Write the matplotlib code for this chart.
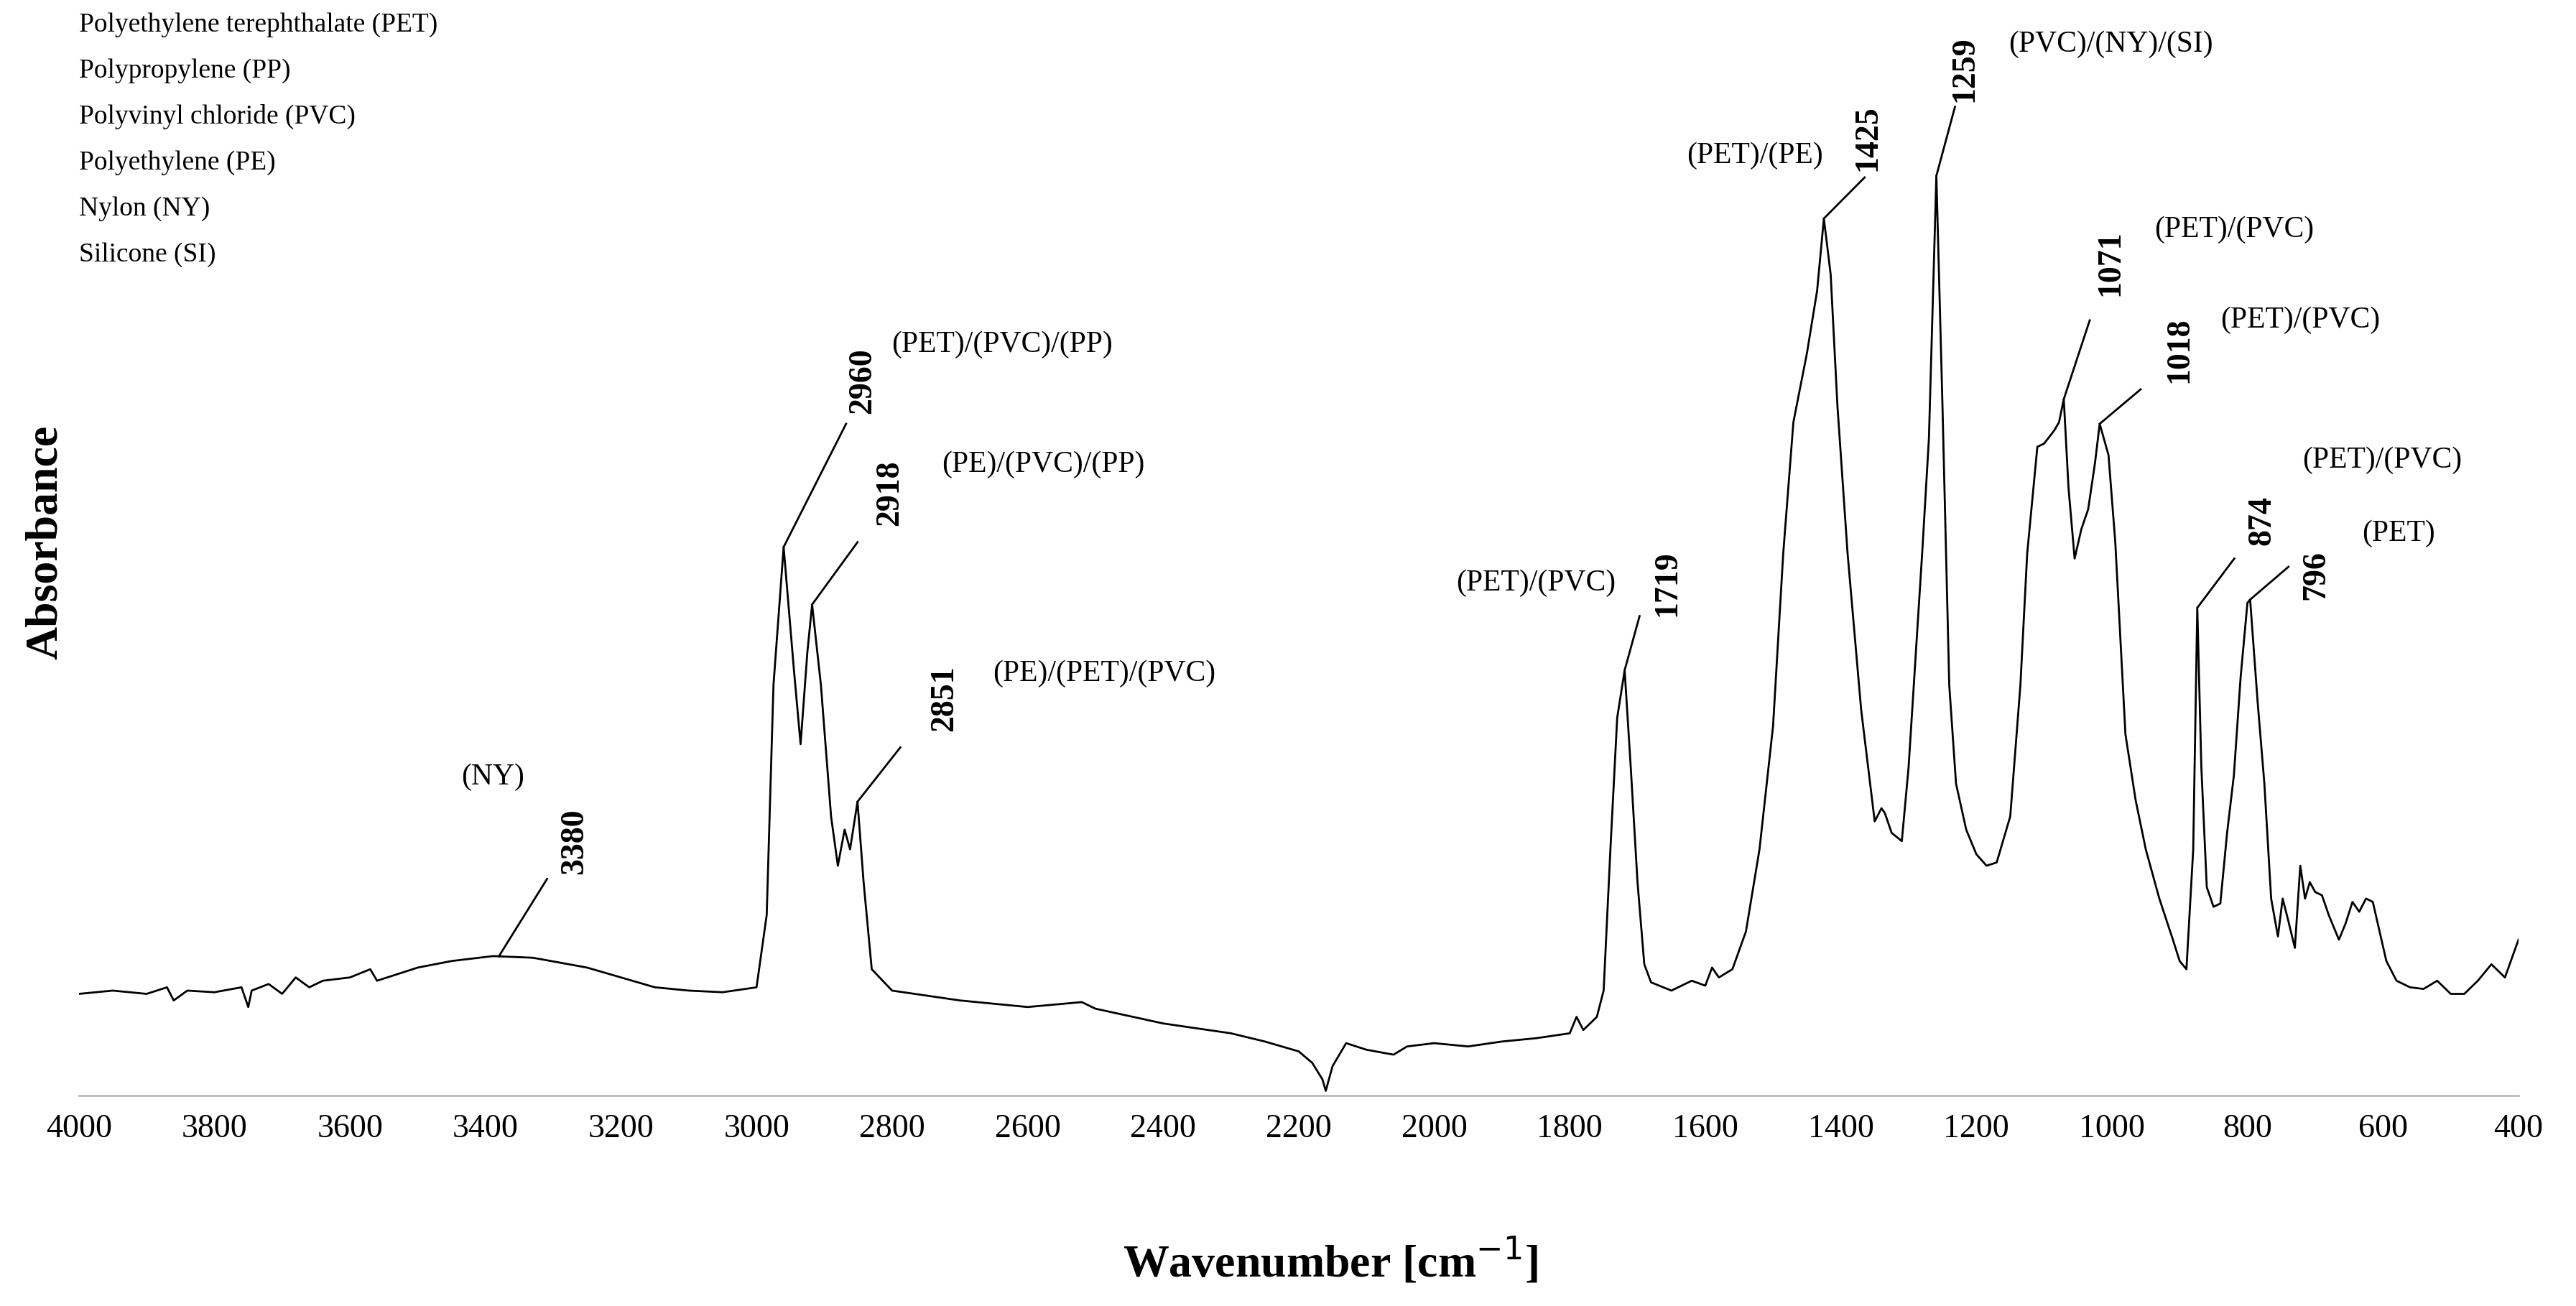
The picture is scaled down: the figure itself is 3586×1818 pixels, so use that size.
import matplotlib
matplotlib.use("Agg")
import matplotlib.pyplot as plt

# spectrum: (wavenumber [cm-1], absorbance arb.)
spectrum = [
    (4000, 62), (3950, 64), (3900, 62), (3870, 66), (3860, 58), (3840, 64), (3800, 63),
    (3760, 66), (3750, 54), (3745, 64), (3720, 68), (3700, 62), (3680, 72), (3660, 66),
    (3640, 70), (3600, 72), (3570, 77), (3560, 70), (3500, 78), (3450, 82), (3389, 85),
    (3330, 84), (3250, 78), (3200, 72), (3150, 66), (3100, 64), (3050, 63), (3000, 66),
    (2985, 110), (2975, 250), (2960, 334), (2945, 260), (2935, 214), (2925, 270), (2918, 299),
    (2905, 250), (2890, 170), (2880, 140), (2870, 162), (2862, 150), (2851, 179), (2842, 130),
    (2830, 77), (2800, 64), (2700, 58), (2600, 54), (2520, 57), (2500, 53), (2400, 44),
    (2300, 38), (2250, 33), (2200, 27), (2180, 20), (2165, 10), (2160, 3), (2150, 18),
    (2130, 32), (2100, 28), (2060, 25), (2040, 30), (2000, 32), (1950, 30), (1900, 33),
    (1850, 35), (1800, 38), (1790, 48), (1780, 40), (1760, 48), (1750, 64), (1740, 150),
    (1730, 230), (1719, 259), (1710, 200), (1700, 130), (1690, 80), (1680, 69), (1650, 64),
    (1620, 70), (1600, 67), (1590, 78), (1580, 72), (1560, 77), (1540, 100), (1520, 150),
    (1500, 225), (1485, 330), (1470, 410), (1450, 452), (1435, 490), (1425, 534), (1415, 500),
    (1405, 420), (1390, 330), (1370, 235), (1350, 167), (1340, 175), (1335, 172), (1325, 160),
    (1310, 155), (1300, 200), (1290, 265), (1280, 330), (1270, 400), (1259, 560), (1250, 420),
    (1240, 250), (1230, 190), (1215, 162), (1200, 147), (1185, 140), (1170, 142), (1150, 170),
    (1135, 250), (1125, 330), (1110, 395), (1100, 397), (1085, 405), (1078, 410), (1071, 424),
    (1064, 370), (1055, 327), (1045, 345), (1035, 357), (1025, 385), (1018, 409), (1005, 390),
    (995, 337), (980, 220), (965, 180), (950, 150), (930, 120), (910, 95), (900, 82),
    (890, 77), (880, 150), (874, 297), (868, 200), (860, 127), (850, 115), (840, 117),
    (830, 160), (820, 195), (810, 255), (800, 300), (796, 302), (785, 240), (775, 190),
    (765, 120), (755, 97), (748, 120), (740, 107), (730, 90), (722, 140), (715, 120),
    (708, 130), (700, 124), (690, 122), (680, 110), (665, 95), (655, 105), (645, 118),
    (635, 112), (625, 120), (615, 118), (605, 100), (595, 82), (580, 70), (560, 66),
    (540, 65), (520, 70), (500, 62), (480, 62), (460, 70), (440, 80), (420, 72), (400, 95),
]
wavenumber = [p[0] for p in spectrum]
absorbance = [p[1] for p in spectrum]

legend_lines = ["Polyethylene terephthalate (PET)", "Polypropylene (PP)",
                "Polyvinyl chloride (PVC)", "Polyethylene (PE)", "Nylon (NY)", "Silicone (SI)"]

peak_nums = [3380, 2960, 2918, 2851, 1719, 1425, 1259, 1071, 1018, 874, 796]
peak_y = [85, 334, 299, 179, 259, 534, 560, 424, 409, 297, 302]
peak_tags = ["(NY)", "(PET)/(PVC)/(PP)", "(PE)/(PVC)/(PP)", "(PE)/(PET)/(PVC)", "(PET)/(PVC)",
             "(PET)/(PE)", "(PVC)/(NY)/(SI)", "(PET)/(PVC)", "(PET)/(PVC)", "(PET)/(PVC)", "(PET)"]

# layout in display-pixel space of a 1568 px wide view
def px2w(px):
    return 4000 - (px - 48) / 0.4125

def py2a(py):
    return 667 - py

line_end = [(333, 535), (515, 258), (522, 330), (548, 455), (998, 375), (1135, 108),
            (1190, 65), (1272, 195), (1303, 237), (1360, 340), (1393, 345)]
num_pos = [(350, 512), (525, 232), (542, 300), (575, 425), (1015, 355), (1137, 84),
           (1196, 42), (1285, 160), (1327, 213), (1377, 317), (1410, 350)]
tag_pos = [(300, 473), (610, 210), (635, 283), (672, 410), (935, 355), (1068, 95),
           (1285, 27), (1360, 140), (1400, 195), (1450, 280), (1460, 325)]

serif = "Liberation Serif"
fig = plt.figure(figsize=(35.86, 18.18), dpi=100)
ax = fig.add_axes([48 / 1568, 1 - 667 / 795, (1533 - 48) / 1568, 667 / 795])
ax.plot(wavenumber, absorbance, color="black", lw=2)
ax.set_xlim(4000, 400)
ax.set_ylim(0, 667)
for s in ["top", "right", "left"]:
    ax.spines[s].set_visible(False)
ax.spines["bottom"].set_color("#bbbbbb")
ax.spines["bottom"].set_linewidth(2)
ax.set_yticks([])
ax.set_xticks(range(4000, 399, -200))
ax.tick_params(axis="x", length=0, pad=18, labelsize=33)
for lab in ax.get_xticklabels():
    lab.set_fontfamily(serif)

for i in range(len(peak_nums)):
    ex, ey = line_end[i]
    ax.plot([peak_nums[i], px2w(ex)], [peak_y[i], py2a(ey)], color="black", lw=2)
    nx, ny = num_pos[i]
    ax.text(px2w(nx), py2a(ny), str(peak_nums[i]), rotation=90, ha="center", va="center",
            fontsize=33, fontweight="bold", family=serif)
    tx, ty = tag_pos[i]
    ax.text(px2w(tx), py2a(ty), peak_tags[i], ha="center", va="center", fontsize=30, family=serif)

for i, t in enumerate(legend_lines):
    fig.text(48 / 1568, 1 - (15 + i * 28) / 795, t, ha="left", va="center", fontsize=27, family=serif)

fig.text(810 / 1568, 1 - 768 / 795, "Wavenumber [cm$^{-1}$]", ha="center", va="center",
         fontsize=46, fontweight="bold", family=serif)
fig.text(28 / 1568, 1 - 330 / 795, "Absorbance", rotation=90, ha="center", va="center",
         fontsize=46, fontweight="bold", family=serif)

fig.savefig("out.png", dpi=100)
